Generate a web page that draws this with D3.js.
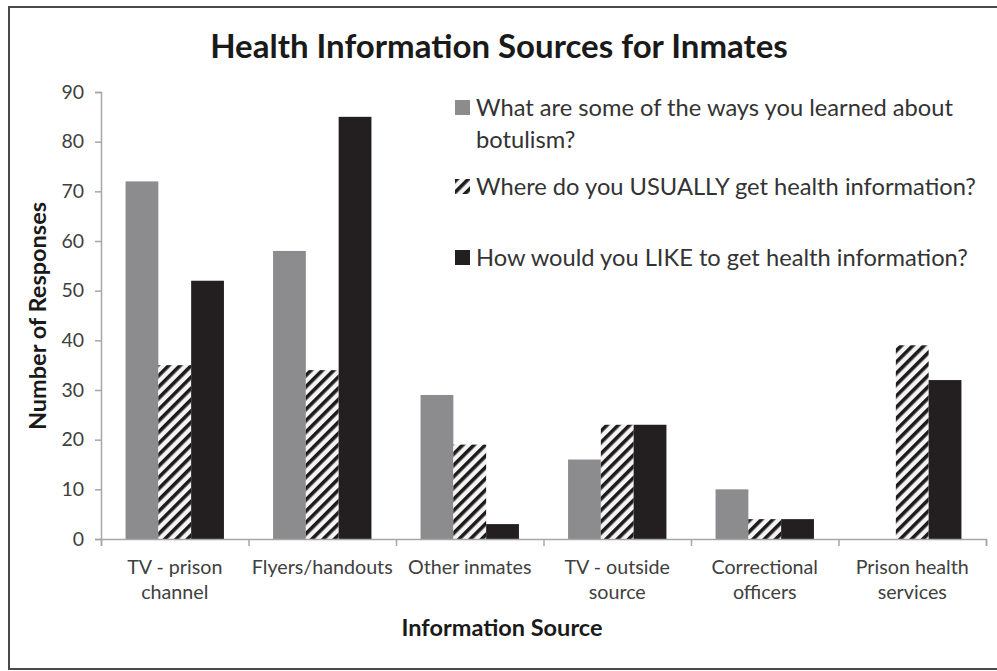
<!DOCTYPE html>
<html><head><meta charset="utf-8">
<script src="https://cdn.jsdelivr.net/npm/d3@7"></script>
<style>html,body{margin:0;padding:0;background:#fff;}svg{display:block;}</style>
</head><body>
<svg id="chart" width="997" height="671"></svg>
<script>
const categories = [["TV - prison","channel"],["Flyers/handouts"],["Other inmates"],["TV - outside","source"],["Correctional","officers"],["Prison health","services"]];
const seriesNames = ["What are some of the ways you learned about botulism?","Where do you USUALLY get health information?","How would you LIKE to get health information?"];
const learned = [72, 58, 29, 16, 10, 0];
const usually = [35, 34, 19, 23, 4, 39];
const like = [52, 85, 3, 23, 4, 32];
const yTicks = [0,10,20,30,40,50,60,70,80,90];

(function(){
const series = [learned, usually, like];
const fills = ["#8c8c8e", "url(#hatch)", "#231f20"];
const font = "Lato, 'Open Sans', sans-serif";

const svg = d3.select("#chart");
const defs = svg.append("defs");
const pat = defs.append("pattern").attr("id","hatch").attr("patternUnits","userSpaceOnUse")
  .attr("width",8).attr("height",8).attr("patternTransform","rotate(45)");
pat.append("rect").attr("width",8).attr("height",8).attr("fill","#f4f4f4");
pat.append("rect").attr("x",0).attr("y",0).attr("width",3.6).attr("height",8).attr("fill","#1c1a1b");

// border
svg.append("rect").attr("x",9).attr("y",7).attr("width",1000).attr("height",662)
  .attr("fill","none").attr("stroke","#4a4a4a").attr("stroke-width",2);

const pLeft = 101, pRight = 986, pTop = 92, pBottom = 539;
const x = d3.scaleBand().domain(d3.range(categories.length)).range([pLeft, pRight]).paddingInner(0.333).paddingOuter(0.1665);
const xs = d3.scaleBand().domain([0,1,2]).range([0, x.bandwidth()]);
const y = d3.scaleLinear().domain([0,90]).range([pBottom, pTop]);

// bars
series.forEach((vals, si) => {
  svg.append("g").selectAll("rect").data(vals).join("rect")
    .attr("x", (d,i) => x(i) + xs(si))
    .attr("y", d => y(d))
    .attr("width", xs.bandwidth())
    .attr("height", d => pBottom - y(d))
    .attr("fill", fills[si]);
});

// y axis
const yAxis = svg.append("g").attr("transform",`translate(${pLeft},0)`)
  .call(d3.axisLeft(y).tickValues(yTicks).tickSize(6).tickPadding(11));
yAxis.select(".domain").attr("stroke","#a6a6a6").attr("stroke-width",1.5);
yAxis.selectAll(".tick line").attr("stroke","#a6a6a6").attr("stroke-width",1.5);
yAxis.selectAll(".tick text").attr("font-family",font).attr("font-size",19.5).attr("fill","#404040");

// x axis with boundary ticks
const xLine = d3.scaleLinear().domain([0,categories.length]).range([pLeft,pRight]);
const xAxis = svg.append("g").attr("transform",`translate(0,${pBottom})`)
  .call(d3.axisBottom(xLine).tickValues(d3.range(categories.length+1)).tickSize(7).tickFormat(""));
xAxis.select(".domain").attr("stroke","#a6a6a6").attr("stroke-width",1.5);
xAxis.selectAll(".tick line").attr("stroke","#a6a6a6").attr("stroke-width",1.5);

// category labels
categories.forEach((lines,i) => {
  const cx = x(i) + x.bandwidth()/2;
  const t = svg.append("text").attr("x",cx).attr("y",574).attr("text-anchor","middle")
    .attr("font-family",font).attr("font-size",19.7).attr("fill","#404040");
  lines.forEach((l,j) => t.append("tspan").attr("x",cx).attr("dy", j===0?0:25).text(l));
});

// titles
svg.append("text").attr("x",499).attr("y",58).attr("text-anchor","middle")
  .attr("font-family",font).attr("font-weight","bold").attr("font-size",33).attr("fill","#1a1a1a")
  .text("Health Information Sources for Inmates");
svg.append("text").attr("x",502).attr("y",636).attr("text-anchor","middle")
  .attr("font-family",font).attr("font-weight","bold").attr("font-size",23.5).attr("fill","#1a1a1a")
  .text("Information Source");
svg.append("text").attr("transform","translate(46,316) rotate(-90)").attr("text-anchor","middle")
  .attr("font-family",font).attr("font-weight","bold").attr("font-size",23.5).attr("fill","#1a1a1a")
  .text("Number of Responses");

// legend
const legend = [
  {lines:["What are some of the ways you learned about","botulism?"], y:108},
  {lines:["Where do you USUALLY get health information?"], y:187},
  {lines:["How would you LIKE to get health information?"], y:258}
];
legend.forEach((d,i) => {
  svg.append("rect").attr("x",455).attr("y",d.y-8).attr("width",15).attr("height",15).attr("fill",fills[i]);
  const t = svg.append("text").attr("x",476).attr("y",d.y+8).attr("font-family",font).attr("font-size",23.7).attr("fill","#333");
  d.lines.forEach((l,j) => t.append("tspan").attr("x",476).attr("dy", j===0?0:32).text(l));
});
})();
</script>
</body></html>
